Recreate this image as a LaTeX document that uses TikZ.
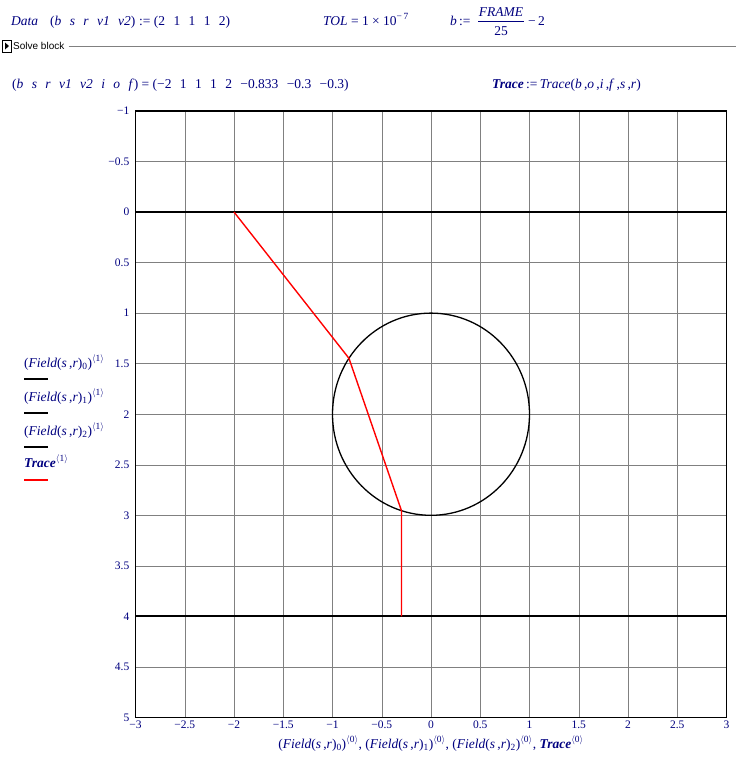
\documentclass[tikz,border=0pt]{standalone}
\usepackage{fontspec}
\setmainfont{Liberation Serif}
\newfontfamily\uifont{Liberation Sans}
\definecolor{mcblue}{RGB}{0,0,128}
\definecolor{gridgray}{RGB}{128,128,128}
\newcommand{\fieldcol}[2]{(\textit{Field}(\textit{s}\,,\textit{r})\textsubscript{#1})\textsuperscript{$\langle$#2$\rangle$}}
\newcommand{\trc}{\textbf{\textit{Trace}}}
\newcommand{\gap}{\hspace{0.62em}}

\begin{document}
\begin{tikzpicture}[x=1pt,y=-1pt,font=\fontsize{13.5}{15}\selectfont,
    mc/.style={text=mcblue,inner sep=0pt,anchor=base west},
    tick/.style={text=mcblue,inner sep=0pt,font=\fontsize{11.5}{13}\selectfont}]
\useasboundingbox (0,0) rectangle (736,764);
\fill[white] (0,0) rectangle (736,764);
\node[mc] (data) at (11,25) {\textit{Data}};
\node[mc] (datavars) at (50,25) {(\textit{b}\gap\textit{s}\gap\textit{r}\gap\textit{v1}\gap\textit{v2})};
\node[mc] (dataval) at (datavars.base east) {\ :=\ (2\gap1\gap1\gap1\gap2)};
\node[mc] (tol) at (323,25) {\textit{TOL} = 1 × 10\textsuperscript{−\,7}};
\node[mc] (bdef) at (450,25) {\textit{b}\,:=};
\node[text=mcblue,inner sep=0pt,anchor=base] (frame) at (501,16) {\textit{FRAME}};
\node[text=mcblue,inner sep=0pt,anchor=base] (den) at (501,35) {25};
\draw[mcblue,line width=0.7pt] (478,21) -- (524,21);
\node[mc] (minus) at (528,25) {−\,2};
\draw[fill=white,line width=0.8pt] (2,40) rectangle (11,52);
\fill (5,42.5) -- (9,46) -- (5,49.5) -- cycle;
\node[anchor=west,inner sep=0pt,font=\uifont\fontsize{10}{12}\selectfont] (solve) at (13,46) {Solve block};
\draw[gridgray] (solve.east) ++(4,0) -- (736,46);
\node[mc] (vals) at (12,88) {(\textit{b}\gap\textit{s}\gap\textit{r}\gap\textit{v1}\gap\textit{v2}\gap\textit{i}\gap\textit{o}\gap\textit{f}) = (−2\gap1\gap1\gap1\gap2\gap−0.833\gap−0.3\gap−0.3)};
\node[mc] (trace) at (492,88) {\trc{}\,:=\,\textit{Trace}(\textit{b}\,,\textit{o}\,,\textit{i}\,,\textit{f}\,,\textit{s}\,,\textit{r})};
\node[mc] (leg0) at (24,367) {\fieldcol{0}{1}};
\draw[line width=2pt] (24,379) -- (48,379);
\node[mc] (leg1) at (24,401) {\fieldcol{1}{1}};
\draw[line width=2pt] (24,413) -- (48,413);
\node[mc] (leg2) at (24,435) {\fieldcol{2}{1}};
\draw[line width=2pt] (24,447) -- (48,447);
\node[mc] (leg3) at (24,467) {\trc\textsuperscript{$\langle$1$\rangle$}};
\draw[red,line width=2pt] (24,480) -- (48,480);
\node[mc,anchor=base] (xlab) at (431,748) {\fieldcol{0}{0}, \fieldcol{1}{0}, \fieldcol{2}{0}, \trc\textsuperscript{$\langle$0$\rangle$}};
\begin{scope}[shift={(431,212)},x=98.5pt,y=-101.1pt]
  \foreach \gx in {-2.5,-2,...,2.6} \draw[gridgray] (\gx,-1) -- (\gx,5);
  \foreach \gy in {-0.5,0,...,4.6} \draw[gridgray] (-3,\gy) -- (3,\gy);
  \draw[line width=2pt] (-3,0) -- (3,0);
  \draw[line width=2pt] (-3,4) -- (3,4);
  \draw[line width=1.3pt] (0,2) circle [x radius=1,y radius=1];
  \draw[red,line width=1.4pt] (-2,0) -- (-0.833,1.447) -- (-0.3,2.954) -- (-0.3,4);
  \draw[line width=1.3pt] (-3,-1) rectangle (3,5);
  \foreach \t/\s in {-1/−1,-0.5/−0.5,0/0,0.5/0.5,1/1,1.5/1.5,2/2,2.5/2.5,3/3,3.5/3.5,4/4,4.5/4.5,5/5}
    \node[tick,anchor=east] at ([xshift=-6pt]-3,\t) {\s};
  \foreach \t/\s in {-3/−3,-2.5/−2.5,-2/−2,-1.5/−1.5,-1/−1,-0.5/−0.5,0/0,0.5/0.5,1/1,1.5/1.5,2/2,2.5/2.5,3/3}
    \node[tick,anchor=north] at ([yshift=-3pt]\t,5) {\s};
\end{scope}
\end{tikzpicture}
\end{document}
